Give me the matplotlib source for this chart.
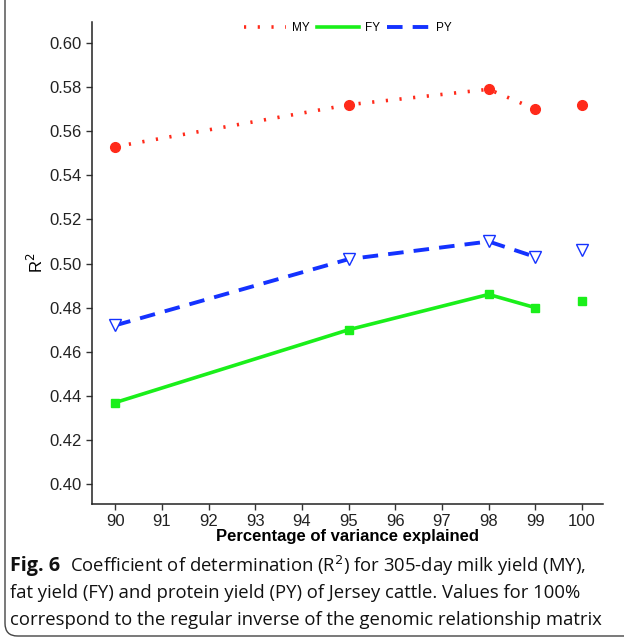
import matplotlib
matplotlib.use("Agg")
import matplotlib.pyplot as plt
from matplotlib.patches import FancyBboxPatch

# Data
variance_pct = [90, 95, 98, 99]
my_vals = [0.553, 0.572, 0.579, 0.570]
fy_vals = [0.437, 0.470, 0.486, 0.480]
py_vals = [0.472, 0.502, 0.510, 0.503]
full_pct = 100
my_full = 0.572
fy_full = 0.483
py_full = 0.506
x_ticks = list(range(90, 101))
y_ticks = [0.40, 0.42, 0.44, 0.46, 0.48, 0.50, 0.52, 0.54, 0.56, 0.58, 0.60]

W, H = 624, 638
fig = plt.figure(figsize=(W / 100, H / 100), dpi=100)
plt.rcParams['font.family'] = ['Liberation Sans', 'DejaVu Sans']

# outer rounded border
border = FancyBboxPatch((5 / W, 1 - 636 / H), 660 / W, 660 / H,
                        boxstyle="round,pad=0,rounding_size=0.02",
                        transform=fig.transFigure, fill=False,
                        edgecolor='#444444', linewidth=1.0, clip_on=False)
fig.patches.append(border)

ax = fig.add_axes([92 / W, 1 - 504 / H, (603 - 92) / W, (504 - 22) / H])
red = '#ff2a1a'
green = '#1aef1a'
blue = '#1432ff'

ax.plot(variance_pct, my_vals, color=red, lw=2.6, linestyle=(0, (0.6, 3.2)),
        label='MY')
ax.plot(variance_pct, fy_vals, color=green, lw=2.6, linestyle='-', label='FY')
ax.plot(variance_pct, py_vals, color=blue, lw=2.8, linestyle=(0, (4.0, 2.6)),
        label='PY')

ax.plot(variance_pct + [full_pct], my_vals + [my_full], linestyle='none',
        marker='o', ms=7, color=red)
ax.plot(variance_pct + [full_pct], fy_vals + [fy_full], linestyle='none',
        marker='s', ms=6, color=green)
ax.plot(variance_pct + [full_pct], py_vals + [py_full], linestyle='none',
        marker='v', ms=8, markerfacecolor='white', markeredgecolor=blue,
        markeredgewidth=1.0)

ax.set_xlim(89.5, 100.45)
ax.set_ylim(0.391, 0.6095)
ax.set_xticks(x_ticks)
ax.set_xticklabels([str(v) for v in x_ticks])
ax.set_yticks(y_ticks)
ax.set_yticklabels([f"{v:.2f}" for v in y_ticks])
ax.tick_params(labelsize=12, length=4, width=1, color='#333333',
               labelcolor='#222222')
for s in ['top', 'right']:
    ax.spines[s].set_visible(False)
for s in ['left', 'bottom']:
    ax.spines[s].set_linewidth(1.1)
    ax.spines[s].set_color('#222222')

ax.set_xlabel('Percentage of variance explained', fontsize=12,
              fontweight='bold', labelpad=0)
ax.set_ylabel('R$^2$', fontsize=12, labelpad=2)

leg = ax.legend(loc='upper center', ncol=3, frameon=False, fontsize=8.5,
                handlelength=3.6, columnspacing=0.6, handletextpad=0.5,
                bbox_to_anchor=(0.5, 1.022))

# caption
cap_font = ['Open Sans', 'DejaVu Sans']
fig.text(10 / W, 1 - 566 / H, 'Fig. 6', fontsize=14.2, fontweight='bold',
         family=cap_font, va='center', ha='left', color='#111111')
fig.text(70 / W, 1 - 566 / H,
         'Coefficient of determination (R$^2$) for 305-day milk yield (MY),',
         fontsize=13.3, family=cap_font, va='center', ha='left', color='#111111')
fig.text(10 / W, 1 - 593 / H,
         'fat yield (FY) and protein yield (PY) of Jersey cattle. Values for 100%',
         fontsize=13.3, family=cap_font, va='center', ha='left', color='#111111')
fig.text(10 / W, 1 - 620 / H,
         'correspond to the regular inverse of the genomic relationship matrix',
         fontsize=13.3, family=cap_font, va='center', ha='left', color='#111111')

fig.savefig('out.png', dpi=100)
